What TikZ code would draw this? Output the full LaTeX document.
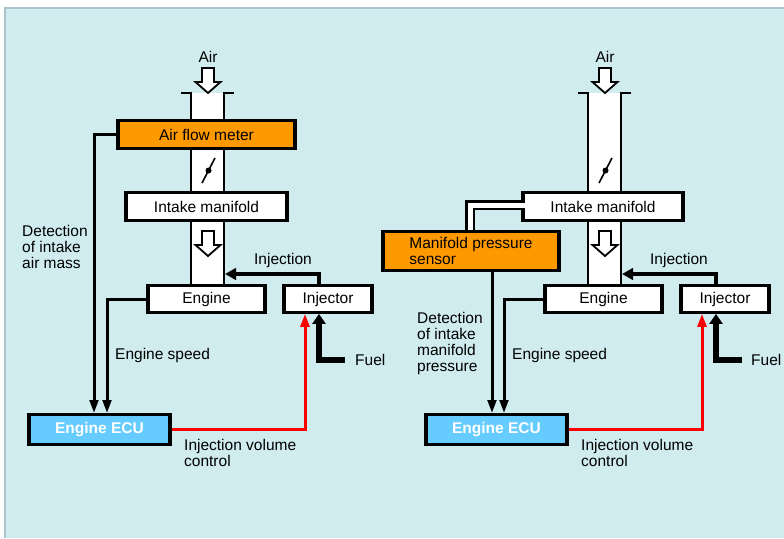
\documentclass[tikz,border=0pt]{standalone}
\usepackage{fontspec}
\setmainfont{Liberation Sans}
\usepackage{tikz}
\usetikzlibrary{
	arrows.meta
}
\definecolor{BgCyan}{RGB}{208,236,239}
\definecolor{EdgeGray}{RGB}{170,196,206}
\definecolor{MeterOrange}{RGB}{255,153,0}
\definecolor{EcuBlue}{RGB}{102,204,255}
\definecolor{CtrlRed}{RGB}{255,0,0}

\tikzset{
	x=1pt, y=-1pt,
	box/.style={draw, line width=3.3pt, fill=white, inner sep=0pt, align=center,
		font=\fontsize{15.5}{16}\selectfont},
	orangebox/.style={box, fill=MeterOrange, align=left},
	ecubox/.style={box, fill=EcuBlue, text=white, font=\fontsize{15.5}{16}\selectfont\bfseries},
	txt/.style={inner sep=0pt, align=left, font=\fontsize{15.5}{16}\selectfont},
	wire/.style={line width=3pt, -{Triangle[length=13pt,width=8.5pt]}},
	injflow/.style={line width=4.5pt, -{Triangle[length=11pt,width=11.5pt]}},
	fuelflow/.style={line width=5.5pt, -{Triangle[length=10pt,width=13pt]}},
	ctrl/.style={line width=3pt, CtrlRed, -{Triangle[length=13pt,width=9pt]}},
	wall/.style={line width=2.3pt}
}

% hollow air arrow, tip pointing down: #1 = x of centre, #2 = y of top
\newcommand{\airarrow}[2]{%
	\draw[line width=1.8pt, fill=white] (#1-6,#2) -- (#1+6,#2) -- (#1+6,#2+14)
		-- (#1+12.5,#2+14) -- (#1,#2+25) -- (#1-12.5,#2+14) -- (#1-6,#2+14) -- cycle;}

\begin{document}
\begin{tikzpicture}
	\useasboundingbox (0,0) rectangle (784,538);
	\fill[white] (0,0) rectangle (784,538);
	\fill[BgCyan] (5,8) rectangle (784,538);
	\draw[EdgeGray, line width=1.5pt] (5,538) -- (5,8) -- (784,8);

	% air flow meter type
	\begin{scope}
		% intake pipe
		\fill[white] (191,93) rectangle (224,284);
		\draw[wall] (181,93) -- (191,93) -- (191,284);
		\draw[wall] (234,93) -- (224,93) -- (224,284);
		\airarrow{208}{68}
		\airarrow{208}{231}
		% throttle valve
		\draw[line width=1.6pt] (202,183) -- (215,158);
		\fill (208.5,170.5) circle (3pt);

		\node[orangebox, align=center, minimum width=177pt, minimum height=27.5pt] (afm) at (206.5,134.5) {Air flow meter};
		\node[box, minimum width=161pt, minimum height=27.5pt] (manL) at (206.5,206.5) {Intake manifold};
		\node[box, minimum width=117pt, minimum height=26.5pt] (engL) at (206.5,299) {Engine};
		\node[box, minimum width=88pt, minimum height=26.5pt] (injL) at (328,299) {Injector};
		\node[ecubox, minimum width=141pt, minimum height=29.5pt] (ecuL) at (99.5,429.5) {Engine ECU};

		\coordinate (pipeL) at (225,274);
		\coordinate (fuelL) at (345,360);

		\draw[wire] (afm.west) -| ([xshift=-5.5pt]ecuL.north);
		\draw[wire] (engL.west) -| ([xshift=7.5pt]ecuL.north);
		\draw[injflow] ([xshift=-9pt]injL.north) |- (pipeL);
		\draw[fuelflow] (fuelL) -| ([xshift=-9pt]injL.south);
		\draw[ctrl] (ecuL.east) -| ([xshift=-23pt]injL.south);

		\node[txt] (airL) at (208,57) {Air};
		\node[txt, anchor=west] (detL) at (22,247) {Detection\\of intake\\air mass};
		\node[txt] (injtxtL) at (283,260) {Injection};
		\node[txt, anchor=west] (spdL) at (115,355) {Engine speed};
		\node[txt, anchor=west] (fueltxtL) at (355,360) {Fuel};
		\node[txt, anchor=west] (volL) at (184,453) {Injection volume\\control};
	\end{scope}

	% manifold pressure sensor type
	\begin{scope}[shift={(397,0)}]
		% intake pipe
		\fill[white] (191,93) rectangle (224,284);
		\draw[wall] (181,93) -- (191,93) -- (191,284);
		\draw[wall] (234,93) -- (224,93) -- (224,284);
		\airarrow{208}{68}
		\airarrow{208}{231}
		% throttle valve
		\draw[line width=1.6pt] (202,183) -- (215,158);
		\fill (208.5,170.5) circle (3pt);

		\node[box, minimum width=160pt, minimum height=27.5pt] (manR) at (206,206.5) {Intake manifold};
		\node[orangebox, minimum width=176pt, minimum height=38.5pt] (mps) at (74,251) {Manifold pressure\\sensor};
		\node[box, minimum width=117pt, minimum height=26.5pt] (engR) at (206.5,299) {Engine};
		\node[box, minimum width=88pt, minimum height=26.5pt] (injR) at (328,299) {Injector};
		\node[ecubox, minimum width=141pt, minimum height=29.5pt] (ecuR) at (99.5,429.5) {Engine ECU};

		% pressure pipe to the sensor
		\draw[line width=10pt] ([xshift=-1pt]mps.north) |- ([yshift=1.5pt]manR.west);
		\draw[white, line width=5pt] ([xshift=-1pt]mps.north) |- ([xshift=3.5pt,yshift=1.5pt]manR.west);

		\coordinate (pipeR) at (225,274);
		\coordinate (fuelR) at (345,360);

		\draw[wire] ([xshift=21pt]mps.south) -- ([xshift=-4.5pt]ecuR.north);
		\draw[wire] (engR.west) -| ([xshift=7.5pt]ecuR.north);
		\draw[injflow] ([xshift=-9pt]injR.north) |- (pipeR);
		\draw[fuelflow] (fuelR) -| ([xshift=-9pt]injR.south);
		\draw[ctrl] (ecuR.east) -| ([xshift=-23pt]injR.south);

		\node[txt] (airR) at (208,57) {Air};
		\node[txt, anchor=west] (detR) at (20,343) {Detection\\of intake\\manifold\\pressure};
		\node[txt] (injtxtR) at (282,260) {Injection};
		\node[txt, anchor=west] (spdR) at (115,355) {Engine speed};
		\node[txt, anchor=west] (fueltxtR) at (354,360) {Fuel};
		\node[txt, anchor=west] (volR) at (184,453) {Injection volume\\control};
	\end{scope}
\end{tikzpicture}
\end{document}
